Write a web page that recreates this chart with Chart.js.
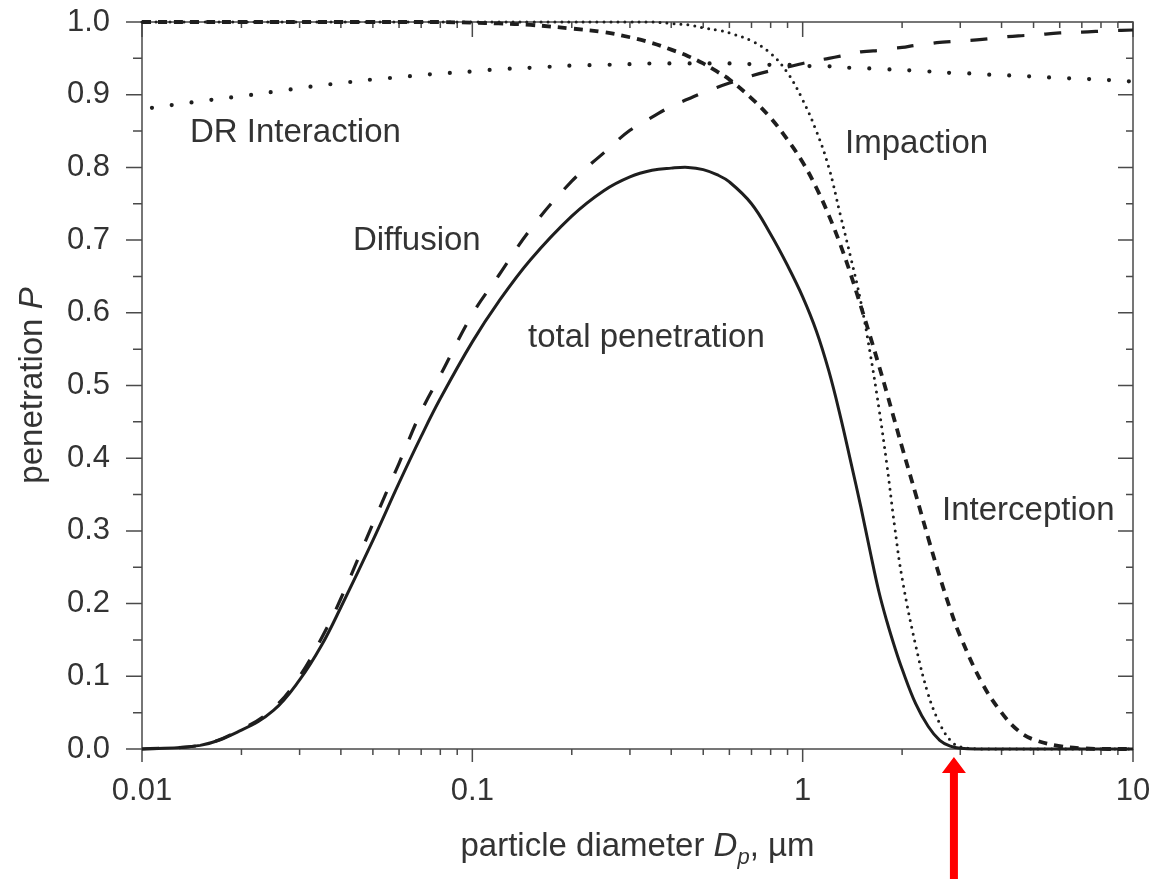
<!DOCTYPE html>
<html><head><meta charset="utf-8">
<script src="https://cdn.jsdelivr.net/npm/chart.js@4.4.1/dist/chart.umd.min.js"></script>
<style>html,body{margin:0;padding:0;background:#fff;} #wrap{position:relative;width:1155px;height:879px;}</style>
</head><body><div id="wrap"><canvas id="c"></canvas></div>
<script>
// particle diameter grid (µm)
const diameters = [0.01, 0.015, 0.02, 0.025, 0.03, 0.035, 0.04, 0.05, 0.06, 0.07, 0.08, 0.1, 0.12, 0.15, 0.2, 0.25, 0.3, 0.35, 0.4, 0.45, 0.5, 0.55, 0.6, 0.7, 0.8, 0.9, 1.0, 1.1, 1.2, 1.3, 1.4, 1.5, 1.6, 1.7, 1.8, 1.9, 2.0, 2.2, 2.4, 2.6, 2.8, 3.0, 3.5, 4.0, 4.5, 5.0, 6.0, 7.0, 8.5, 10];
const totalPenetration = [0, 0.005, 0.026, 0.053, 0.095, 0.143, 0.195, 0.287, 0.366, 0.430, 0.482, 0.560, 0.615, 0.673, 0.733, 0.768, 0.787, 0.796, 0.799, 0.800, 0.797, 0.790, 0.780, 0.750, 0.708, 0.665, 0.622, 0.575, 0.520, 0.458, 0.394, 0.333, 0.272, 0.217, 0.175, 0.140, 0.110, 0.062, 0.031, 0.012, 0.004, 0.001, 0, 0, 0, 0, 0, 0, 0, 0];
const diffusion = [0, 0.005, 0.027, 0.056, 0.10, 0.153, 0.207, 0.31, 0.393, 0.464, 0.514, 0.598, 0.651, 0.715, 0.781, 0.820, 0.851, 0.869, 0.884, 0.894, 0.903, 0.910, 0.916, 0.926, 0.933, 0.938, 0.943, 0.947, 0.950, 0.953, 0.956, 0.959, 0.960, 0.961, 0.963, 0.964, 0.965, 0.968, 0.970, 0.972, 0.973, 0.974, 0.976, 0.979, 0.981, 0.982, 0.985, 0.986, 0.988, 0.989];
const drInteraction = [0.880, 0.891, 0.898, 0.904, 0.909, 0.913, 0.916, 0.921, 0.924, 0.927, 0.929, 0.932, 0.935, 0.937, 0.940, 0.941, 0.942, 0.943, 0.943, 0.943, 0.943, 0.943, 0.943, 0.942, 0.941, 0.941, 0.940, 0.939, 0.939, 0.938, 0.937, 0.937, 0.936, 0.935, 0.935, 0.934, 0.934, 0.933, 0.932, 0.931, 0.930, 0.930, 0.928, 0.927, 0.926, 0.925, 0.923, 0.922, 0.920, 0.918];
const interception = [1, 1, 1, 1, 1, 1, 1, 1, 1, 1, 1, 0.999, 0.998, 0.996, 0.991, 0.986, 0.979, 0.971, 0.962, 0.953, 0.943, 0.932, 0.921, 0.895, 0.868, 0.838, 0.807, 0.772, 0.734, 0.694, 0.652, 0.609, 0.568, 0.528, 0.489, 0.451, 0.415, 0.35, 0.29, 0.237, 0.192, 0.155, 0.09, 0.05, 0.025, 0.013, 0.004, 0.001, 0, 0];
const impaction = [1, 1, 1, 1, 1, 1, 1, 1, 1, 1, 1, 1, 1, 1, 1, 1, 1, 1, 0.998, 0.996, 0.992, 0.989, 0.985, 0.974, 0.957, 0.93, 0.893, 0.85, 0.80, 0.735, 0.675, 0.615, 0.545, 0.47, 0.39, 0.305, 0.235, 0.142, 0.075, 0.035, 0.012, 0.003, 0, 0, 0, 0, 0, 0, 0, 0];

const xTickValues = [0.01, 0.1, 1, 10];
const yTickValues = [0, 0.1, 0.2, 0.3, 0.4, 0.5, 0.6, 0.7, 0.8, 0.9, 1.0];
const curveLabels = [
  {text: 'DR Interaction', d: 0.01397, p: 0.835},
  {text: 'Diffusion', d: 0.0435, p: 0.686},
  {text: 'total penetration', d: 0.1475, p: 0.553},
  {text: 'Impaction', d: 1.344, p: 0.820},
  {text: 'Interception', d: 2.642, p: 0.315}
];
const arrowAt = 2.87;

const FONT = "'Liberation Sans', Arial, Helvetica, sans-serif";
const TXT = '#333';

function pts(arr){ return diameters.map((d,i)=>({x:d, y:arr[i]})); }

const framePlugin = {
  id: 'frame',
  beforeDatasetsDraw(chart){
    const {ctx, chartArea:{left,right,top,bottom}, scales:{x,y}} = chart;
    ctx.save();
    ctx.strokeStyle = '#4a4a4a';
    ctx.lineWidth = 1.5;
    ctx.strokeRect(left, top, right-left, bottom-top);
    ctx.beginPath();
    for (let i=0;i<=20;i++){
      const v = i*5/100;
      const py = y.getPixelForValue(v);
      const major = i%2===0;
      ctx.moveTo(left-(major?16:9), py); ctx.lineTo(left, py);
      ctx.moveTo(right, py); ctx.lineTo(right-(major?15:7), py);
    }
    for (let k=-2;k<=1;k++){
      for (let m=1;m<10;m++){
        const v = m*Math.pow(10,k);
        const px = x.getPixelForValue(v);
        const major = m===1;
        ctx.moveTo(px, bottom); ctx.lineTo(px, bottom+(major?13:6));
        ctx.moveTo(px, top); ctx.lineTo(px, top+(major?15:6));
        if (k===1) break;
      }
    }
    ctx.stroke();
    ctx.restore();
  },
  afterDraw(chart){
    const {ctx, chartArea:{left,right,top,bottom}, scales:{x,y}} = chart;
    ctx.save();
    ctx.fillStyle = TXT;
    ctx.textBaseline = 'alphabetic';
    ctx.textAlign = 'left';
    ctx.font = `33px ${FONT}`;
    curveLabels.forEach(l=>{
      ctx.fillText(l.text, x.getPixelForValue(l.d), y.getPixelForValue(l.p));
    });
    const drawSegs = (segs, cx, by)=>{
      let w = 0;
      segs.forEach(s=>{ ctx.font = s.f; s.w = ctx.measureText(s.t).width; w += s.w; });
      let cur = cx - w/2;
      segs.forEach(s=>{ ctx.font = s.f; ctx.fillText(s.t, cur, by + s.dy); cur += s.w; });
    };
    // x title
    drawSegs([
      {t:'particle diameter ', f:`33px ${FONT}`, dy:0},
      {t:'D', f:`italic 33px ${FONT}`, dy:0},
      {t:'p', f:`italic 22px ${FONT}`, dy:8},
      {t:', \u00b5m', f:`33px ${FONT}`, dy:0}
    ], (left+right)/2, 856);
    // y title
    ctx.save();
    ctx.translate(42, (top+bottom)/2);
    ctx.rotate(-Math.PI/2);
    drawSegs([
      {t:'penetration ', f:`33px ${FONT}`, dy:0},
      {t:'P', f:`italic 33px ${FONT}`, dy:0}
    ], 0, 0);
    ctx.restore();
    // red arrow
    const ax = x.getPixelForValue(arrowAt);
    ctx.fillStyle = '#ff0000';
    ctx.beginPath();
    ctx.moveTo(ax, 757);
    ctx.lineTo(ax+12, 773);
    ctx.lineTo(ax+4, 773);
    ctx.lineTo(ax+4, 879);
    ctx.lineTo(ax-4, 879);
    ctx.lineTo(ax-4, 773);
    ctx.lineTo(ax-12, 773);
    ctx.closePath();
    ctx.fill();
    ctx.restore();
  }
};

const common = {showLine:true, pointRadius:0, borderColor:'#1e1e1e', backgroundColor:'transparent', tension:0.4, clip:8, fill:false};

new Chart(document.getElementById('c'), {
  type: 'scatter',
  data: {
    datasets: [
      Object.assign({label:'total penetration', data: pts(totalPenetration), borderWidth:3}, common),
      Object.assign({label:'Diffusion', data: pts(diffusion), borderWidth:3.2, borderDash:[17,20]}, common),
      Object.assign({label:'Interception', data: pts(interception), borderWidth:3.8, borderDash:[9,7]}, common),
      Object.assign({label:'Impaction', data: pts(impaction), borderWidth:3, borderDash:[0,7], borderCapStyle:'round'}, common),
      Object.assign({label:'DR Interaction', data: pts(drInteraction), borderWidth:4.2, borderDash:[0,20], borderDashOffset:10, borderCapStyle:'round'}, common)
    ]
  },
  options: {
    responsive: true, maintainAspectRatio: false, animation: false,
    layout: {padding: {top:22, right:22, left:0, bottom:0}},
    plugins: {legend:{display:false}, tooltip:{enabled:false}},
    scales: {
      x: {
        type: 'logarithmic', min: 0.01, max: 10,
        grid: {display:false, drawTicks:false},
        border: {display:false},
        afterBuildTicks(s){ s.ticks = xTickValues.map(v=>({value:v, major:true})); },
        afterFit(s){ s.height = 130; s.paddingLeft = 0; s.paddingRight = 0; s.paddingTop = 0; s.paddingBottom = 0; },
        ticks: {autoSkip:false, maxRotation:0, minRotation:0, padding:24, color:TXT, font:{family:FONT, size:31},
          callback(v){ return String(v); }}
      },
      y: {
        min: 0, max: 1,
        grid: {display:false, drawTicks:false},
        border: {display:false},
        afterBuildTicks(s){ s.ticks = yTickValues.map(v=>({value:v})); },
        afterFit(s){ s.width = 142; s.paddingLeft = 0; s.paddingRight = 0; s.paddingTop = 0; s.paddingBottom = 0; },
        ticks: {padding:32, color:TXT, font:{family:FONT, size:31},
          callback(v){ return Number(v).toFixed(1); }}
      }
    }
  },
  plugins: [framePlugin]
});
</script>
</body></html>
